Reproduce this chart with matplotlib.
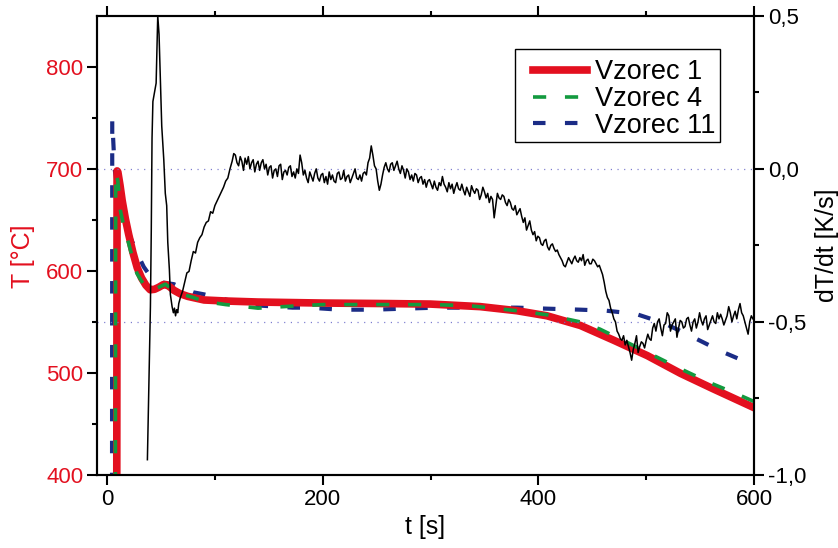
import matplotlib
matplotlib.use("Agg")
import matplotlib.pyplot as plt
from matplotlib.patches import Rectangle

plt.rcParams['font.family'] = ['Liberation Sans', 'DejaVu Sans']
plt.rcParams['lines.scale_dashes'] = False

RED = '#e3101f'
GREEN = '#139a3f'
BLUE = '#1b2c86'
DOT = '#7474cc'

# Temperature curves T [°C]
t_v1 = [9.0, 9.3, 10, 12, 14, 17, 20, 24, 28, 32, 36, 40, 44, 48, 52, 55, 58,
        62, 68, 75, 90, 110, 140, 200, 260, 300, 346, 380, 408, 439, 470, 501,
        532, 562, 600]
T_v1 = [390, 698, 697, 684, 669, 651, 636, 618, 603, 593, 586, 581.5, 582,
        584, 586.5, 586.5, 584.5, 581, 577.5, 575, 571.5, 570.5, 569.5, 568.5,
        568, 567.5, 565, 561, 556, 546.5, 532, 517, 499.5, 484.5, 466]

t_v4 = [7.7, 8.0, 10, 12.4, 16, 20, 24, 27.7, 32, 36, 40, 46, 54, 62, 70, 80,
        90, 110, 140, 172, 200, 250, 300, 335, 380, 408, 439, 457, 488, 530,
        560, 584, 600]
T_v4 = [390, 697, 688, 659, 641, 627, 611, 597.5, 590, 584, 581, 583, 587,
        581, 577, 574, 570, 567, 563.5, 565.5, 567, 567, 567, 566, 561, 557,
        550, 543, 527, 505, 490, 479.5, 472]

t_v11 = [4.6, 4.8, 7, 10, 14, 21.6, 28, 34, 40, 46, 55, 62, 70, 80, 90, 114,
         142, 172, 187, 216, 247, 275, 306, 335, 380, 408, 439, 463, 490, 516,
         530, 553, 570, 590, 600]
T_v11 = [390, 748, 700, 678, 659, 633, 617, 604, 595, 590, 588, 587, 583, 579,
         577, 571, 566, 564, 564, 562, 562, 563, 564, 564, 564, 563, 562, 561,
         558, 549, 542, 530, 521, 512, 508]

# Cooling rate dT/dt [K/s] of Vzorec 1: first the onset and recovery,
# then the logged samples every 1.5 s from 119 s to 599 s
t_rate_start = [37.4, 38.5, 39.5, 40.2, 41, 41.7, 42.5, 43.5, 44.5, 45.5,
                46.3, 47, 48.2, 49.5, 50.7, 52.6, 54, 55.3, 56.3, 57.8, 58.7,
                60.3, 61.5, 62.5, 63.5, 64.5, 65.5, 66.5, 68,
                70, 72, 74, 76, 78, 80, 82, 84, 86, 88, 90, 92, 94, 96, 98,
                100, 102, 104, 106, 108, 110, 112, 114, 116, 117.5]
rate_start = [-0.95, -0.75, -0.55, -0.45, -0.2, 0.1, 0.22, 0.24, 0.26, 0.28,
              0.4, 0.5, 0.44, 0.28, 0.14, 0.03, -0.08, -0.12, -0.24, -0.33,
              -0.41, -0.45, -0.47, -0.455, -0.48, -0.46, -0.47, -0.44, -0.42,
              -0.40, -0.37, -0.34, -0.335, -0.30, -0.27, -0.275, -0.24, -0.225,
              -0.215, -0.19, -0.175, -0.17, -0.14, -0.145, -0.12, -0.105,
              -0.09, -0.075, -0.06, -0.04, -0.03, 0.0, 0.025, 0.05]
rate_logged = [
    0.045, 0.02, 0.01, 0.04, 0.025, -0.005, 0.035, 0.015, 0.04, 0.0,
    0.02, 0.03, -0.01, 0.015, 0.025, -0.005, 0.02, 0.03, 0.0, 0.015,
    -0.02, 0.005, 0.01, -0.03, -0.005, 0.0, -0.025, 0.01, 0.015, -0.035,
    -0.01, -0.005, -0.02, 0.005, 0.01, -0.025, -0.01, -0.03, 0.0, -0.015,
    0.045, 0.02, -0.02, -0.005, -0.03, -0.045, -0.01, -0.025, -0.04, -0.015,
    0.0, -0.03, -0.04, -0.02, -0.015, -0.045, -0.025, -0.05, -0.01, -0.035,
    -0.02, -0.04, -0.045, -0.015, -0.01, -0.035, -0.03, -0.005, -0.04, -0.025,
    -0.02, -0.045, -0.03, -0.015, 0.0, -0.03, -0.035, -0.02, -0.04, -0.015,
    -0.01, -0.02, 0.02, 0.035, 0.075, 0.045, 0.01, 0.0, -0.04, -0.07,
    -0.05, -0.02, 0.005, 0.02, 0.0, -0.01, 0.015, 0.02, -0.005, 0.01,
    0.025, 0.0, -0.015, 0.01, -0.005, -0.03, 0.0, -0.01, -0.035, -0.02,
    -0.04, -0.015, -0.02, -0.045, -0.03, -0.025, -0.05, -0.035, -0.06, -0.04,
    -0.035, -0.05, -0.065, -0.04, -0.06, -0.07, -0.045, -0.055, -0.025, -0.05,
    -0.06, -0.075, -0.045, -0.065, -0.05, -0.08, -0.06, -0.045, -0.065, -0.07,
    -0.05, -0.07, -0.085, -0.06, -0.075, -0.09, -0.055, -0.07, -0.08, -0.065,
    -0.07, -0.1, -0.085, -0.06, -0.075, -0.095, -0.08, -0.11, -0.09, -0.1,
    -0.16, -0.12, -0.08, -0.095, -0.1, -0.085, -0.09, -0.11, -0.12, -0.1,
    -0.11, -0.13, -0.135, -0.12, -0.15, -0.14, -0.13, -0.155, -0.175, -0.16,
    -0.2, -0.185, -0.17, -0.2, -0.215, -0.205, -0.235, -0.22, -0.225, -0.245,
    -0.25, -0.235, -0.23, -0.255, -0.265, -0.25, -0.245, -0.26, -0.27, -0.265,
    -0.28, -0.29, -0.3, -0.315, -0.32, -0.305, -0.29, -0.3, -0.31, -0.295,
    -0.285, -0.3, -0.305, -0.29, -0.3, -0.28, -0.315, -0.3, -0.295, -0.31,
    -0.31, -0.295, -0.30, -0.31, -0.32, -0.315, -0.33, -0.345, -0.37, -0.4,
    -0.42, -0.43, -0.455, -0.47, -0.49, -0.5, -0.53, -0.54, -0.555, -0.56,
    -0.545, -0.575, -0.56, -0.58, -0.6, -0.625, -0.59, -0.57, -0.545, -0.6,
    -0.58, -0.565, -0.57, -0.585, -0.56, -0.54, -0.555, -0.56, -0.52, -0.505,
    -0.53, -0.5, -0.49, -0.52, -0.545, -0.51, -0.505, -0.47, -0.48, -0.53,
    -0.51, -0.5, -0.49, -0.55, -0.52, -0.495, -0.5, -0.52, -0.515, -0.49,
    -0.485, -0.51, -0.53, -0.5, -0.49, -0.52, -0.5, -0.47, -0.495, -0.51,
    -0.49, -0.48, -0.525, -0.51, -0.495, -0.48, -0.5, -0.505, -0.47, -0.49,
    -0.475, -0.49, -0.51, -0.495, -0.48, -0.45, -0.47, -0.5, -0.48, -0.465,
    -0.49, -0.46, -0.44, -0.47, -0.48, -0.5, -0.52, -0.54, -0.5, -0.48,
    -0.49]
t_rate_logged = [119 + 1.5 * i for i in range(len(rate_logged))]

x_major = [0, 200, 400, 600]
x_minor = [100, 300, 500]
T_major = [400, 500, 600, 700, 800]
T_minor = [450, 550, 650, 750]
r_major = [-1.0, -0.5, 0.0, 0.5]
r_minor = [-0.75, -0.25, 0.25]
r_labels = ['-1,0', '-0,5', '0,0', '0,5']
r_guides = [0.0, -0.5]

fig = plt.figure(figsize=(8.38, 5.48), dpi=100)
ax = fig.add_axes([0.1158, 0.1332, 0.784, 0.838])
ax2 = ax.twinx()

l1, = ax.plot(t_v1, T_v1, color=RED, lw=5.5, solid_joinstyle='round',
              label='Vzorec 1', zorder=3)
l4, = ax.plot(t_v4, T_v4, color=GREEN, lw=2.6, dashes=(9.5, 13.5),
              label='Vzorec 4', zorder=4)
l11, = ax.plot(t_v11, T_v11, color=BLUE, lw=3.0, dashes=(9.0, 14.0),
               label='Vzorec 11', zorder=2)

for g in r_guides:
    ax2.axhline(g, color=DOT, lw=0.9, dashes=(0.8, 4.0), zorder=1)
ax2.plot(t_rate_start + t_rate_logged, rate_start + rate_logged,
         color='black', lw=1.1, zorder=5)

ax.set_xlim(-9.3, 600)
ax.set_ylim(400, 850)
ax2.set_ylim(-1.0, 0.5)

ax.set_xticks(x_major)
ax.set_xticks(x_minor, minor=True)
ax.set_yticks(T_major)
ax.set_yticks(T_minor, minor=True)
ax2.set_yticks(r_major)
ax2.set_yticklabels(r_labels)
ax2.set_yticks(r_minor, minor=True)

for a in (ax, ax2):
    for s in a.spines.values():
        s.set_linewidth(1.5)
ax.tick_params(axis='both', which='major', direction='out', length=7,
               width=1.5, labelsize=16, pad=3)
ax.tick_params(axis='both', which='minor', direction='out', length=3.5,
               width=1.5)
ax.tick_params(axis='x', which='both', top=True)
ax.tick_params(axis='y', labelcolor=RED)
ax2.tick_params(axis='y', which='major', direction='out', length=7,
                width=1.5, labelsize=16, pad=3)
ax2.tick_params(axis='y', which='minor', direction='out', length=3.5,
                width=1.5)

ax.set_xlabel('t [s]', fontsize=18, labelpad=4)
ax.set_ylabel('T [°C]', fontsize=18, color=RED)
ax.yaxis.set_label_coords(-0.094, 0.477)
ax2.set_ylabel('dT/dt [K/s]', fontsize=18, labelpad=6)

# Legend entries with a plain rectangular box around them
ax2.add_patch(Rectangle((0.636, 0.725), 0.312, 0.2025,
                        transform=ax2.transAxes, facecolor='white',
                        edgecolor='black', lw=1.0, zorder=9))
leg = ax2.legend(handles=[l1, l4, l11], loc='upper left',
                 bbox_to_anchor=(0.6636, 0.9055), fontsize=19.5,
                 frameon=False, handlelength=2.0, handletextpad=0.3,
                 labelspacing=0.03, borderpad=0.0, borderaxespad=0.0)
leg.set_zorder(10)

fig.savefig('out.png', dpi=100)
